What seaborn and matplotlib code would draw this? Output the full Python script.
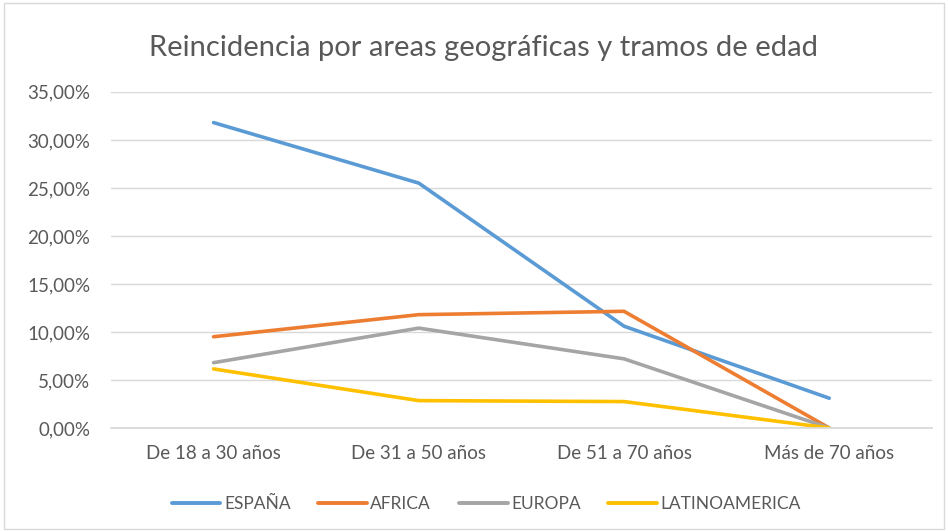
import pandas as pd
import numpy as np
import matplotlib.pyplot as plt
import seaborn as sns
from matplotlib.ticker import FuncFormatter
from matplotlib.patches import Rectangle

# datos (porcentaje de reincidencia)
tramos = ['De 18 a 30 años', 'De 31 a 50 años', 'De 51 a 70 años', 'Más de 70 años']
espana = [31.8, 25.5, 10.6, 3.1]
africa = [9.5, 11.8, 12.15, 0.0]
europa = [6.8, 10.4, 7.2, 0.0]
latinoamerica = [6.15, 2.85, 2.75, 0.0]

series = {'ESPAÑA': espana, 'AFRICA': africa, 'EUROPA': europa, 'LATINOAMERICA': latinoamerica}
colores = ['#5B9BD5', '#ED7D31', '#A5A5A5', '#FFC000']

df = pd.DataFrame([
    {'tramo': t, 'zona': zona, 'valor': v}
    for zona, vals in series.items()
    for t, v in zip(tramos, vals)
])

sns.set_theme(style='white')
plt.rcParams['font.family'] = ['Lato', 'DejaVu Sans']
gris = '#595959'

fig, ax = plt.subplots(figsize=(9.48, 5.31), dpi=100)
fig.subplots_adjust(left=0.117, right=0.983, top=0.827, bottom=0.194)

sns.lineplot(data=df, x='tramo', y='valor', hue='zona', palette=colores,
             linewidth=2.6, sort=False, ax=ax, solid_capstyle='round')

ax.set_xlim(-0.5, 3.5)
ax.set_ylim(0, 35)
ax.set_yticks(np.arange(0, 36, 5))
ax.yaxis.set_major_formatter(FuncFormatter(lambda v, p: f'{v:.2f}%'.replace('.', ',')))
ax.grid(axis='y', color='#D9D9D9', linewidth=1)
ax.tick_params(axis='both', colors=gris, labelsize=13.5, length=0)
ax.tick_params(axis='y', pad=15)
ax.tick_params(axis='x', pad=12)
for s in ax.spines.values():
    s.set_visible(False)
ax.spines['bottom'].set_visible(True)
ax.spines['bottom'].set_color('#D9D9D9')
ax.set_xlabel('')
ax.set_ylabel('')

fig.suptitle('Reincidencia por areas geográficas y tramos de edad',
             fontsize=21, color=gris, x=0.51, y=0.935)

handles, labels = ax.get_legend_handles_labels()
ax.get_legend().remove()
leg = fig.legend(handles, labels, loc='center', bbox_to_anchor=(0.513, 0.05), ncol=4,
                 frameon=False, fontsize=12.5, handlelength=2.8, columnspacing=1.6,
                 handletextpad=0.2)
for txt in leg.get_texts():
    txt.set_color(gris)
for h in leg.get_lines():
    h.set_linewidth(2.8)

fig.patches.append(Rectangle((0.004, 0.004), 0.992, 0.99, transform=fig.transFigure,
                             fill=False, edgecolor='#D9D9D9', linewidth=1))

fig.savefig('out.png', dpi=100)
